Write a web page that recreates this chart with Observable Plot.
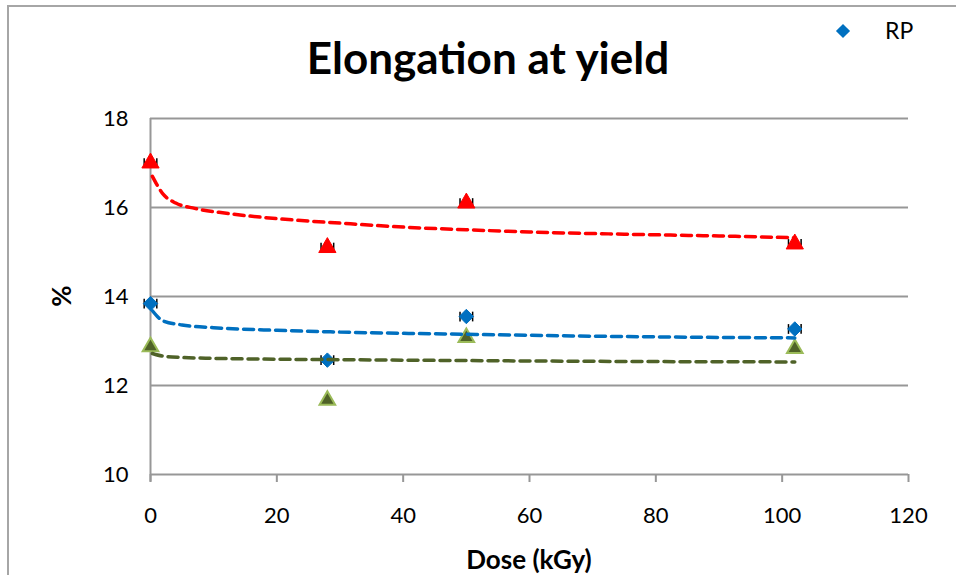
<!DOCTYPE html>
<html>
<head>
<meta charset="utf-8">
<script src="https://cdn.jsdelivr.net/npm/d3@7"></script>
<script src="https://cdn.jsdelivr.net/npm/@observablehq/plot@0.6"></script>
<style>
  html, body { margin: 0; padding: 0; background: #fff; }
  #wrap { position: relative; width: 956px; height: 575px; overflow: hidden; font-family: Lato, "Open Sans", sans-serif; }
  #frame { position: absolute; left: 7px; top: 5px; width: 1000px; height: 1000px; border-left: 2px solid #a6a6a6; border-top: 2px solid #a6a6a6; }
  #chart { position: absolute; left: 0; top: 0; }
  .lbl { position: absolute; color: #000; white-space: nowrap; line-height: 1.2; }
  #title { left: 0; width: 976px; top: 31px; text-align: center; font-size: 44px; font-weight: bold; }
  #xlab { left: 0; width: 1058px; top: 544px; text-align: center; font-size: 26px; font-weight: bold; }
  #ylab { left: 62px; top: 296px; font-size: 26px; font-weight: bold; transform: translate(-50%, -50%) rotate(-90deg); }
  #leg { left: 885px; top: 17px; font-size: 23px; }
  #legsym { position: absolute; left: 838px; top: 26px; width: 10px; height: 10px; background: #0070c0; transform: rotate(45deg); }
</style>
</head>
<body>
<div id="wrap">
  <div id="frame"></div>
  <div id="chart"></div>
  <div class="lbl" id="title">Elongation at yield</div>
  <div class="lbl" id="xlab">Dose (kGy)</div>
  <div class="lbl" id="ylab">%</div>
  <div id="legsym"></div>
  <div class="lbl" id="leg">RP</div>
</div>
<script>
// Measured data
const dose = [0, 28, 50, 102];
const redValues = [17.0, 15.1, 16.1, 15.18];
const blueValues = [13.84, 12.57, 13.55, 13.27];
const greenValues = [12.87, 11.67, 13.08, 12.83];
const doseError = [1, 1, 1, 1];

// Trend lines
const redTrendX = [0.3, 2, 4, 7, 12, 20, 30, 40, 50, 60, 75, 90, 102];
const redTrendY = [16.7, 16.3, 16.1, 15.98, 15.87, 15.75, 15.65, 15.56, 15.5, 15.45, 15.4, 15.36, 15.32];
const blueTrendX = [0.3, 2, 5, 10, 20, 30, 50, 75, 102];
const blueTrendY = [13.68, 13.45, 13.36, 13.3, 13.24, 13.2, 13.15, 13.1, 13.07];
const greenTrendX = [0.3, 2, 5, 10, 20, 30, 50, 75, 102];
const greenTrendY = [12.72, 12.66, 12.63, 12.61, 12.59, 12.58, 12.56, 12.54, 12.53];

const xTicks = [0, 20, 40, 60, 80, 100, 120];
const yTicks = [10, 12, 14, 16, 18];

const pts = (xs, ys) => xs.map((x, i) => ({x, y: ys[i]}));
const red = pts(dose, redValues);
const blue = pts(dose, blueValues);
const green = pts(dose, greenValues);
const errRows = [...dose.map((x, i) => ({x, y: redValues[i], e: doseError[i]})),
                 ...dose.map((x, i) => ({x, y: blueValues[i], e: doseError[i]}))];

const capSymbol = {
  draw(context, size) {
    const h = Math.sqrt(size) / 2;
    context.moveTo(0, -h);
    context.lineTo(0, h);
  }
};

const gridColor = "#979797";
const font = "Lato, 'Open Sans', sans-serif";

const plot = Plot.plot({
  width: 956,
  height: 575,
  marginLeft: 150,
  marginRight: 48,
  marginTop: 118,
  marginBottom: 101,
  style: { fontFamily: font, background: "transparent", overflow: "visible" },
  x: { domain: [0, 120] },
  y: { domain: [10, 18] },
  marks: [
    Plot.ruleY(yTicks.filter(d => d > 10), { stroke: gridColor, strokeWidth: 2 }),
    Plot.ruleY([10], { stroke: gridColor, strokeWidth: 2 }),
    Plot.ruleX([0], { y1: 9.83, y2: 18, stroke: gridColor, strokeWidth: 2 }),
    Plot.axisX({ ticks: xTicks, tickSize: 8, tickPadding: 25, stroke: gridColor, strokeWidth: 2, fontSize: 22, label: null, color: "#000", tickFormat: d => String(d) }),
    Plot.axisY({ ticks: yTicks, tickSize: 0, tickPadding: 22, fontSize: 22, label: null, tickFormat: d => String(d) }),
    // error bars
    Plot.link(errRows, { x1: d => d.x - d.e, x2: d => d.x + d.e, y1: "y", y2: "y", stroke: "#000", strokeWidth: 1.3 }),
    Plot.dot(errRows, { x: d => d.x - d.e, y: "y", symbol: capSymbol, r: 5.5, stroke: "#000", strokeWidth: 1.5, fill: "none" }),
    Plot.dot(errRows, { x: d => d.x + d.e, y: "y", symbol: capSymbol, r: 5.5, stroke: "#000", strokeWidth: 1.5, fill: "none" }),
    // markers
    Plot.dot(red, { x: "x", y: "y", symbol: "triangle", r: 6.4, fill: "#ff0000", stroke: "#ff0000", strokeWidth: 1 }),
    Plot.dot(blue, { x: "x", y: "y", symbol: "diamond2", r: 6.5, fill: "#0070c0", stroke: "#0070c0", strokeWidth: 1 }),
    Plot.dot(green, { x: "x", y: "y", symbol: "triangle", r: 5.8, fill: "#4f6228", stroke: "#9bbb59", strokeWidth: 2 }),
    // trend lines
    Plot.line(pts(redTrendX, redTrendY), { x: "x", y: "y", curve: "monotone-x", stroke: "#ff0000", strokeWidth: 3.5, strokeDasharray: "10,6", strokeLinecap: "round" }),
    Plot.line(pts(blueTrendX, blueTrendY), { x: "x", y: "y", curve: "monotone-x", stroke: "#0070c0", strokeWidth: 3.5, strokeDasharray: "10,6", strokeLinecap: "round" }),
    Plot.line(pts(greenTrendX, greenTrendY), { x: "x", y: "y", curve: "monotone-x", stroke: "#4f6228", strokeWidth: 3.5, strokeDasharray: "10,6", strokeLinecap: "round" })
  ]
});
document.getElementById("chart").appendChild(plot);
</script>
</body>
</html>
